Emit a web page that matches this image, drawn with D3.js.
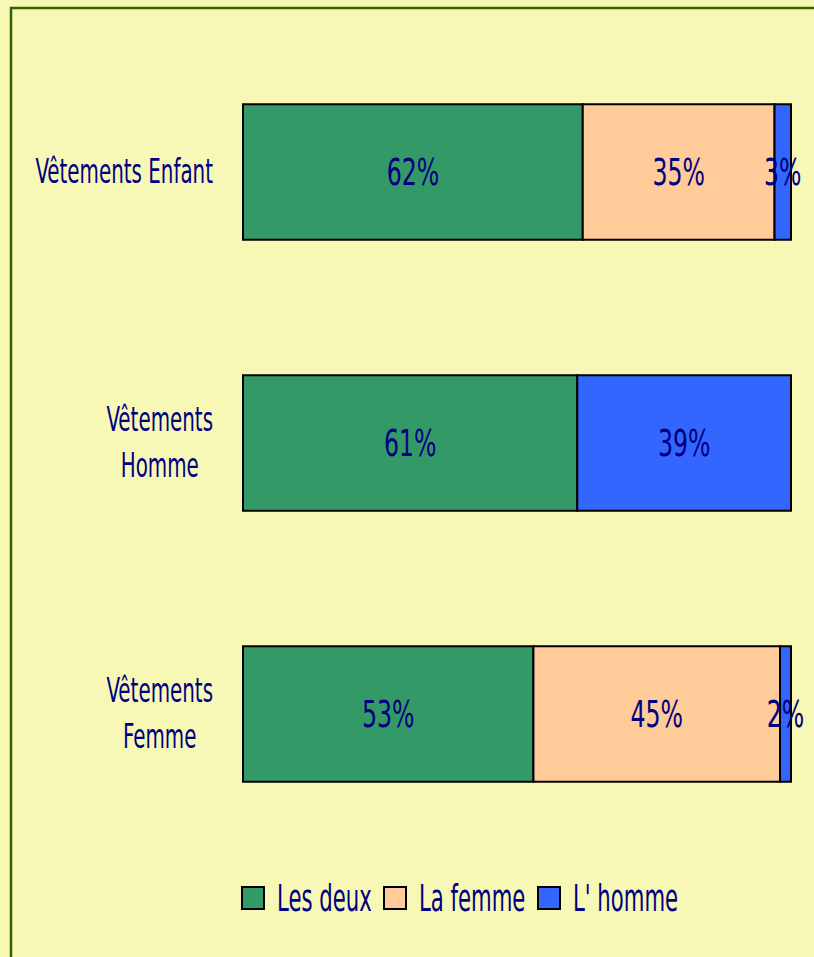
<!DOCTYPE html>
<html>
<head>
<meta charset="utf-8">
<script src="https://cdn.jsdelivr.net/npm/d3@7"></script>
<style>
    html, body { margin: 0; padding: 0; background: #F7F8B6; }
    svg { display: block; }
    text { font-family: "Liberation Sans Narrow", "DejaVu Sans Condensed", sans-serif; fill: #000080; }
</style>
</head>
<body>
<svg></svg>
<script>
var categories = ["Vêtements Enfant", "Vêtements Homme", "Vêtements Femme"];
var series = ["Les deux", "La femme", "L' homme"];
var lesDeux = [62, 61, 53];
var laFemme = [35, 0, 45];
var lHomme = [3, 39, 2];
var colors = ["#339966", "#FFCC99", "#3366FF"];

var width = 814,
    height = 957;

var rows = categories.map(function(c, i) {
    return { cat: c, "Les deux": lesDeux[i], "La femme": laFemme[i], "L' homme": lHomme[i] };
});

var svg = d3.select("svg")
    .attr("width", width)
    .attr("height", height);

svg.append("rect")
    .attr("x", 0).attr("y", 0)
    .attr("width", width).attr("height", height)
    .attr("fill", "#F7F8B6");

// chart area border (cut off at right and bottom)
svg.append("path")
    .attr("d", "M11," + height + "V8H" + width)
    .attr("fill", "none")
    .attr("stroke", "#336600")
    .attr("stroke-width", 2.5);

var x = d3.scaleLinear()
    .domain([0, 100])
    .range([243, 791]);

var y = d3.scaleBand()
    .domain(categories)
    .range([36.5, 849.5])
    .paddingInner(0.5)
    .paddingOuter(0.25);

var stack = d3.stack().keys(series)(rows);

var layer = svg.selectAll(".layer")
    .data(stack)
    .enter().append("g")
    .attr("class", "layer")
    .attr("fill", function(d, i) { return colors[i]; });

layer.selectAll("rect")
    .data(function(d) { return d.filter(function(s) { return s[1] - s[0] > 0; }); })
    .enter().append("rect")
    .attr("x", function(d) { return x(d[0]); })
    .attr("y", function(d) { return y(d.data.cat); })
    .attr("width", function(d) { return x(d[1]) - x(d[0]); })
    .attr("height", y.bandwidth())
    .attr("stroke", "#000")
    .attr("stroke-width", 2);

// the original font is very narrow, so squeeze horizontally
function squeezedText(sel, tx, ty, size, sx, anchor, str) {
    return sel.append("text")
        .attr("transform", "translate(" + tx + "," + ty + ") scale(" + sx + ",1)")
        .attr("text-anchor", anchor)
        .attr("dominant-baseline", "central")
        .style("font-size", size + "px")
        .text(str);
}

// value labels
layer.each(function(lay) {
    var g = d3.select(this);
    lay.forEach(function(d) {
        var v = d[1] - d[0];
        if (v <= 0) return;
        squeezedText(g, (x(d[0]) + x(d[1])) / 2, y(d.data.cat) + y.bandwidth() / 2, 37, 0.71, "middle", v + "%");
    });
});

// category labels, wrapped and centred in a block ending at x = 213
var wraps = [["Vêtements Enfant"], ["Vêtements", "Homme"], ["Vêtements", "Femme"]];
var labelRight = 213, lineH = 46, catScale = 0.67;
categories.forEach(function(c, i) {
    var lines = wraps[i];
    var cy = y(c) + y.bandwidth() / 2;
    var g = svg.append("g");
    var texts = lines.map(function(l, k) {
        return squeezedText(g, 0, 0, 33, catScale, "middle", l);
    });
    var maxW = d3.max(texts, function(t) { return t.node().getComputedTextLength() * catScale; });
    texts.forEach(function(t, k) {
        var yy = cy + (k - (lines.length - 1) / 2) * lineH;
        t.attr("transform", "translate(" + (labelRight - maxW / 2) + "," + yy + ") scale(" + catScale + ",1)");
    });
});

// legend
var legendX = [242, 384, 538];
var legendY = 898;
var legend = svg.selectAll(".legend")
    .data(series)
    .enter().append("g")
    .attr("class", "legend");

legend.append("rect")
    .attr("x", function(d, i) { return legendX[i]; })
    .attr("y", legendY - 11)
    .attr("width", 22)
    .attr("height", 22)
    .attr("fill", function(d, i) { return colors[i]; })
    .attr("stroke", "#000")
    .attr("stroke-width", 2);

legend.each(function(d, i) {
    squeezedText(d3.select(this), legendX[i] + 35, legendY, 38, 0.62, "start", d);
});
</script>
</body>
</html>
